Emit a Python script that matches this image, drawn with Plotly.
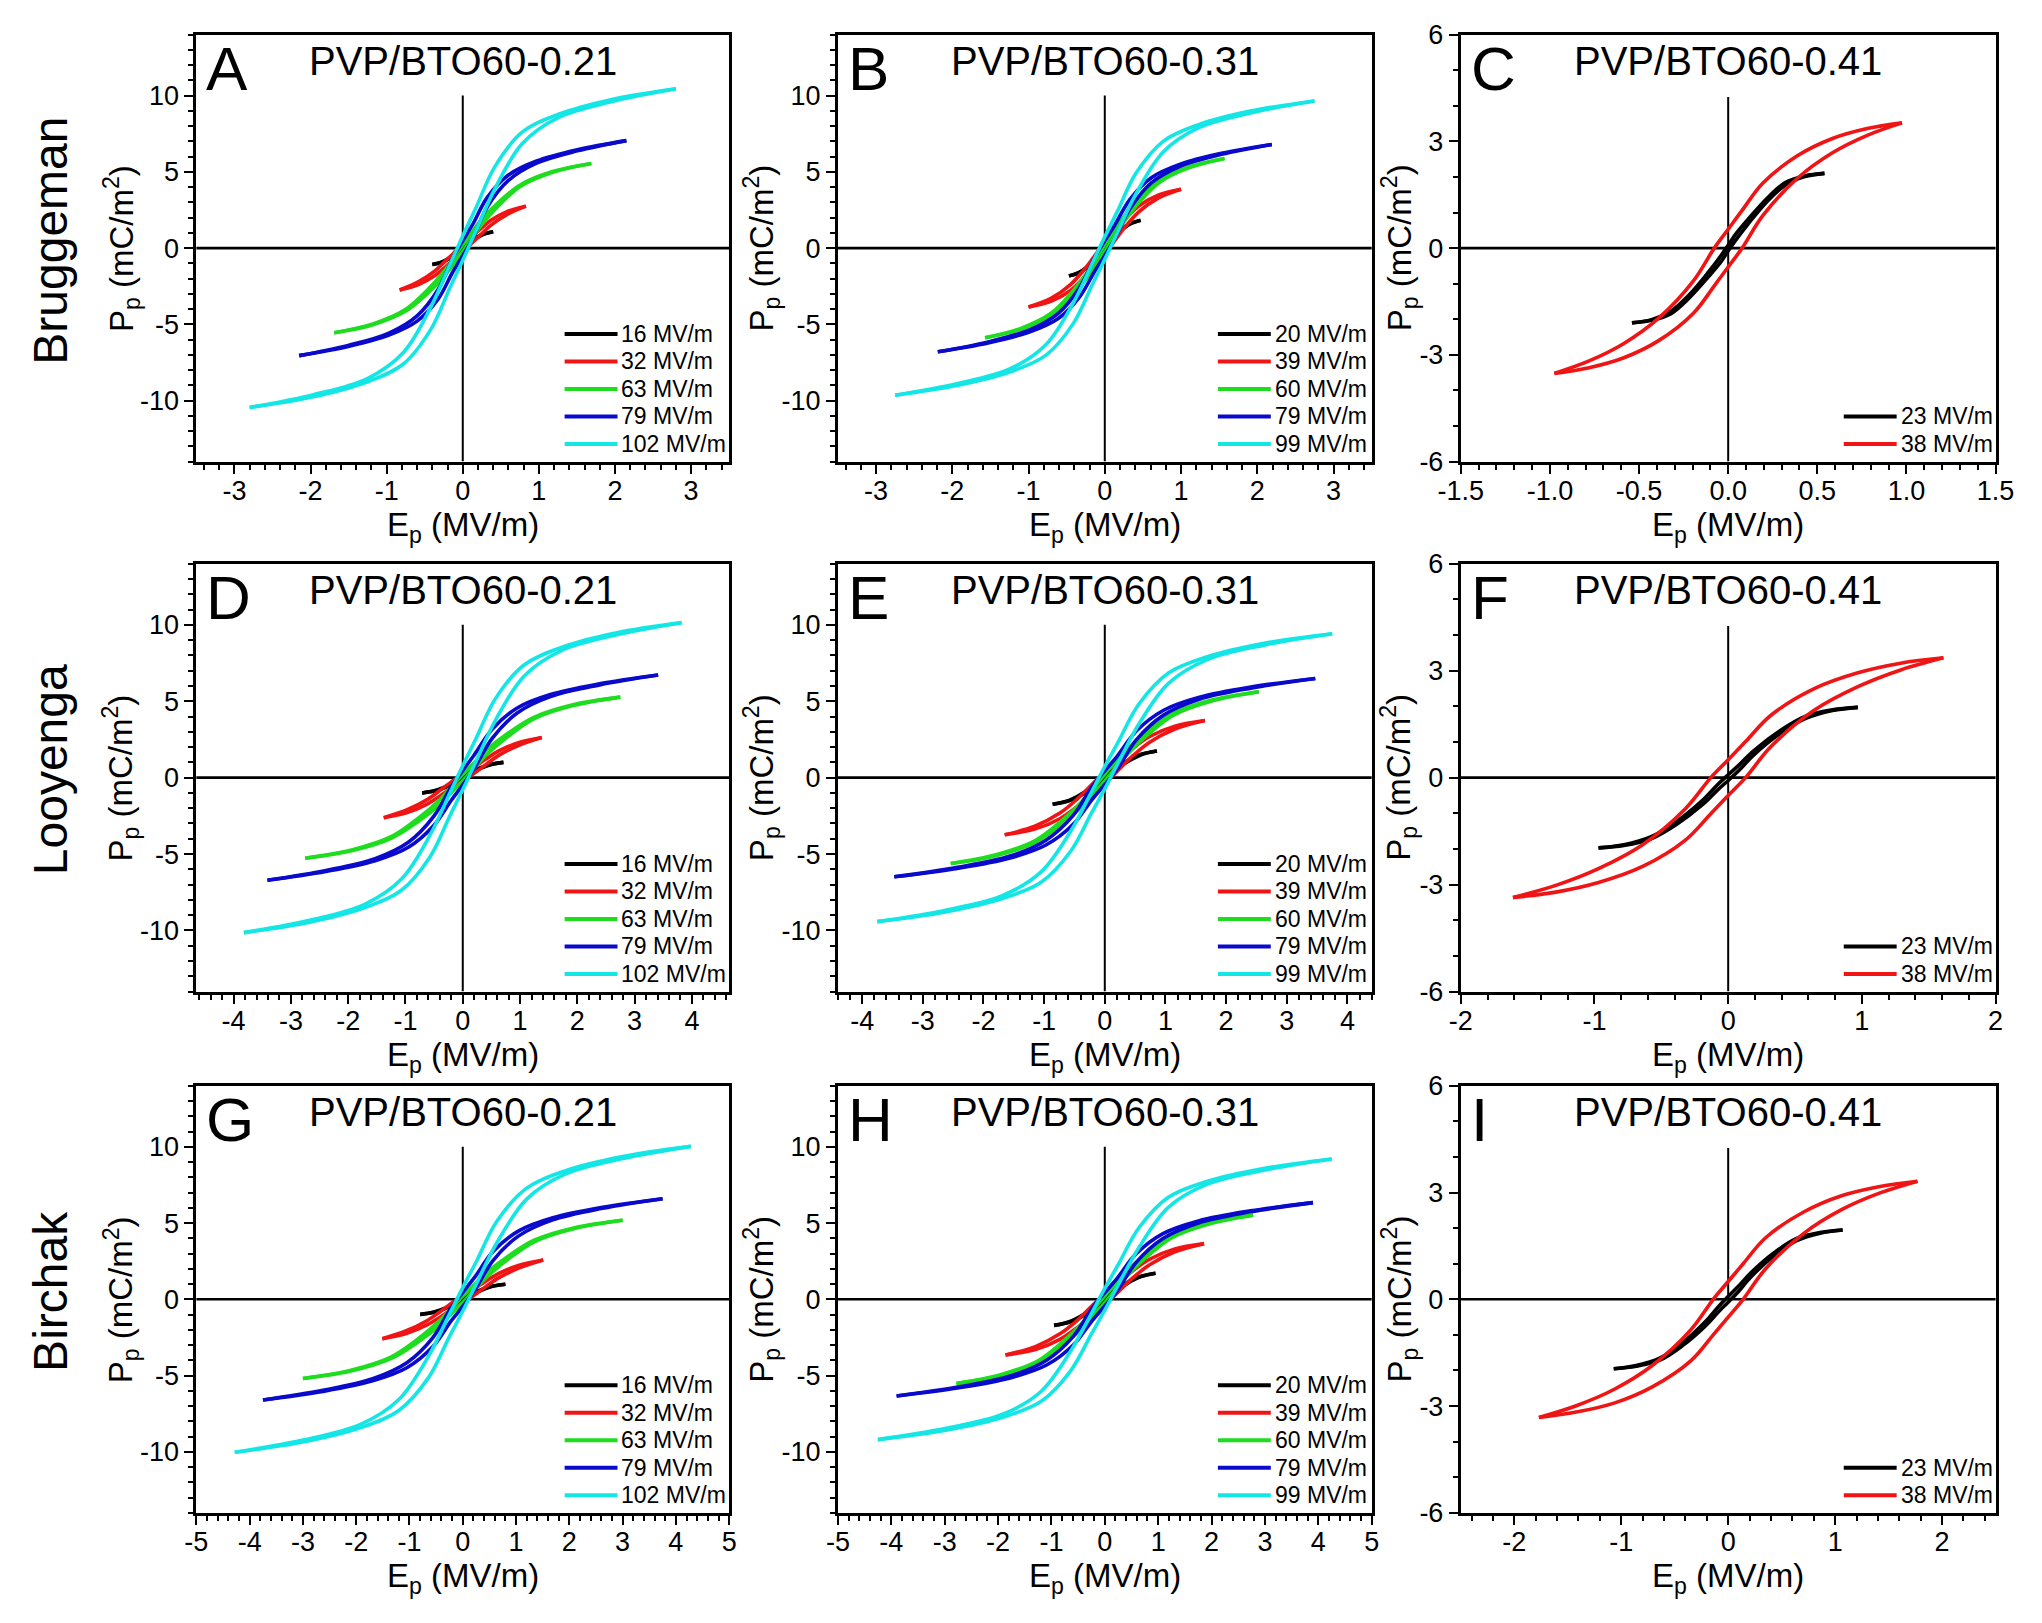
"""
P-E hysteresis loops of PVP/BTO60 particles from three effective medium models
"""
# Imports ---------------------------------------------------------------------
import plotly.graph_objects as go


# Labels ----------------------------------------------------------------------
models = ["Bruggeman", "Looyenga", "Birchak"]
samples = ["PVP/BTO60-0.21", "PVP/BTO60-0.31", "PVP/BTO60-0.41"]
letters = ["A", "B", "C", "D", "E", "F", "G", "H", "I"]
fields_021 = ["16 MV/m", "32 MV/m", "63 MV/m", "79 MV/m", "102 MV/m"]
fields_031 = ["20 MV/m", "39 MV/m", "60 MV/m", "79 MV/m", "99 MV/m"]
fields_041 = ["23 MV/m", "38 MV/m"]
colors = ["#000000", "#F01414", "#1EDC1E", "#0A0ACD", "#14E6E6"]

xt_3 = [-3, -2, -1, 0, 1, 2, 3]
xt_3_txt = ["-3", "-2", "-1", "0", "1", "2", "3"]
xt_15 = [-1.5, -1.0, -0.5, 0.0, 0.5, 1.0, 1.5]
xt_15_txt = ["-1.5", "-1.0", "-0.5", "0.0", "0.5", "1.0", "1.5"]
xt_4 = [-4, -3, -2, -1, 0, 1, 2, 3, 4]
xt_4_txt = ["-4", "-3", "-2", "-1", "0", "1", "2", "3", "4"]
xt_2 = [-2, -1, 0, 1, 2]
xt_2_txt = ["-2", "-1", "0", "1", "2"]
xt_5 = [-5, -4, -3, -2, -1, 0, 1, 2, 3, 4, 5]
xt_5_txt = ["-5", "-4", "-3", "-2", "-1", "0", "1", "2", "3", "4", "5"]
yt_10 = [-10, -5, 0, 5, 10]
yt_10_txt = ["-10", "-5", "0", "5", "10"]
yt_6 = [-6, -3, 0, 3, 6]
yt_6_txt = ["-6", "-3", "0", "3", "6"]


# Loops -----------------------------------------------------------------------
# E ascending; dn = branch on the rising field, up = branch on the falling field
A16_E = [-0.40, -0.28, -0.18, -0.112, -0.06, -0.024, 0, 0.024, 0.06, 0.112, 0.18, 0.28, 0.40]
A16_dn = [-1.07, -0.94, -0.71, -0.48, -0.29, -0.14, -0.05, 0.04, 0.20, 0.43, 0.66, 0.92, 1.07]
A16_up = [-1.07, -0.92, -0.66, -0.43, -0.20, -0.04, 0.05, 0.14, 0.29, 0.48, 0.71, 0.94, 1.07]
A32_E = [-0.83, -0.58, -0.37, -0.23, -0.12, -0.05, 0, 0.05, 0.12, 0.23, 0.37, 0.58, 0.83]
A32_dn = [-2.75, -2.39, -1.82, -1.24, -0.77, -0.47, -0.28, -0.06, 0.33, 0.85, 1.51, 2.20, 2.75]
A32_up = [-2.75, -2.20, -1.51, -0.85, -0.33, 0.06, 0.28, 0.47, 0.77, 1.24, 1.82, 2.39, 2.75]
A63_E = [-1.69, -1.18, -0.76, -0.47, -0.25, -0.10, 0, 0.10, 0.25, 0.47, 0.76, 1.18, 1.69]
A63_dn = [-5.55, -5.02, -4.16, -3.00, -1.89, -0.89, -0.22, 0.50, 1.55, 2.78, 4.05, 4.97, 5.55]
A63_up = [-5.55, -4.97, -4.05, -2.78, -1.55, -0.50, 0.22, 0.89, 1.89, 3.00, 4.16, 5.02, 5.55]
A79_E = [-2.15, -1.505, -0.97, -0.60, -0.32, -0.13, 0, 0.13, 0.32, 0.60, 0.97, 1.505, 2.15]
A79_dn = [-7.05, -6.45, -5.71, -4.79, -3.31, -1.55, -0.49, 0.63, 2.68, 4.44, 5.57, 6.38, 7.05]
A79_up = [-7.05, -6.38, -5.57, -4.44, -2.68, -0.63, 0.49, 1.55, 3.31, 4.79, 5.71, 6.45, 7.05]
A102_E = [-2.80, -1.96, -1.26, -0.78, -0.42, -0.17, 0, 0.17, 0.42, 0.78, 1.26, 1.96, 2.80]
A102_dn = [-10.45, -9.75, -8.78, -7.60, -5.33, -2.61, -0.80, 1.10, 3.87, 6.84, 8.57, 9.61, 10.45]
A102_up = [-10.45, -9.61, -8.57, -6.84, -3.87, -1.10, 0.80, 2.61, 5.33, 7.60, 8.78, 9.75, 10.45]

B20_E = [-0.47, -0.33, -0.21, -0.13, -0.07, -0.03, 0, 0.03, 0.07, 0.13, 0.21, 0.33, 0.47]
B20_dn = [-1.82, -1.60, -1.20, -0.82, -0.49, -0.24, -0.09, 0.07, 0.35, 0.73, 1.13, 1.57, 1.82]
B20_up = [-1.82, -1.57, -1.13, -0.73, -0.35, -0.07, 0.09, 0.24, 0.49, 0.82, 1.20, 1.60, 1.82]
B39_E = [-1.0, -0.70, -0.45, -0.28, -0.15, -0.06, 0, 0.06, 0.15, 0.28, 0.45, 0.70, 1.0]
B39_dn = [-3.86, -3.47, -2.78, -1.97, -1.24, -0.69, -0.35, 0.00, 0.62, 1.47, 2.39, 3.28, 3.86]
B39_up = [-3.86, -3.28, -2.39, -1.47, -0.62, 0.00, 0.35, 0.69, 1.24, 1.97, 2.78, 3.47, 3.86]
B60_E = [-1.57, -1.10, -0.71, -0.44, -0.24, -0.09, 0, 0.09, 0.24, 0.44, 0.71, 1.10, 1.57]
B60_dn = [-5.88, -5.32, -4.41, -3.18, -2.00, -0.94, -0.24, 0.53, 1.65, 2.94, 4.29, 5.26, 5.88]
B60_up = [-5.88, -5.26, -4.29, -2.94, -1.65, -0.53, 0.24, 0.94, 2.00, 3.18, 4.41, 5.32, 5.88]
B79_E = [-2.19, -1.53, -0.99, -0.61, -0.33, -0.13, 0, 0.13, 0.33, 0.61, 0.99, 1.53, 2.19]
B79_dn = [-6.80, -6.22, -5.51, -4.62, -3.20, -1.50, -0.48, 0.61, 2.58, 4.28, 5.37, 6.15, 6.80]
B79_up = [-6.80, -6.15, -5.37, -4.28, -2.58, -0.61, 0.48, 1.50, 3.20, 4.62, 5.51, 6.22, 6.80]
B99_E = [-2.75, -1.925, -1.24, -0.77, -0.41, -0.165, 0, 0.165, 0.41, 0.77, 1.24, 1.925, 2.75]
B99_dn = [-9.65, -9.00, -8.11, -7.02, -4.92, -2.41, -0.74, 1.01, 3.57, 6.32, 7.91, 8.88, 9.65]
B99_up = [-9.65, -8.88, -7.91, -6.32, -3.57, -1.01, 0.74, 2.41, 4.92, 7.02, 8.11, 9.00, 9.65]

C23_E = [-0.54, -0.43, -0.32, -0.22, -0.11, -0.04, 0, 0.04, 0.11, 0.22, 0.32, 0.43, 0.54]
C23_dn = [-2.10, -2.03, -1.84, -1.41, -0.80, -0.38, -0.08, 0.21, 0.67, 1.32, 1.77, 2.01, 2.10]
C23_up = [-2.10, -2.01, -1.77, -1.32, -0.67, -0.21, 0.08, 0.38, 0.80, 1.41, 1.84, 2.03, 2.10]
C38_E = [-0.975, -0.78, -0.585, -0.39, -0.195, -0.078, 0, 0.078, 0.195, 0.39, 0.585, 0.78, 0.975]
C38_dn = [-3.52, -3.36, -3.08, -2.60, -1.83, -1.06, -0.53, 0.00, 0.92, 1.97, 2.68, 3.17, 3.52]
C38_up = [-3.52, -3.17, -2.68, -1.97, -0.92, 0.00, 0.53, 1.06, 1.83, 2.60, 3.08, 3.36, 3.52]

D16_E = [-0.71, -0.50, -0.32, -0.20, -0.11, -0.04, 0, 0.04, 0.11, 0.20, 0.32, 0.50, 0.71]
D16_dn = [-1.0, -0.88, -0.66, -0.45, -0.27, -0.13, -0.05, 0.04, 0.19, 0.40, 0.62, 0.86, 1.0]
D16_up = [-1.0, -0.86, -0.62, -0.40, -0.19, -0.04, 0.05, 0.13, 0.27, 0.45, 0.66, 0.88, 1.0]
D32_E = [-1.38, -0.97, -0.62, -0.39, -0.21, -0.08, 0, 0.08, 0.21, 0.39, 0.62, 0.97, 1.38]
D32_dn = [-2.62, -2.28, -1.73, -1.18, -0.73, -0.45, -0.26, -0.05, 0.31, 0.81, 1.44, 2.10, 2.62]
D32_up = [-2.62, -2.10, -1.44, -0.81, -0.31, 0.05, 0.26, 0.45, 0.73, 1.18, 1.73, 2.28, 2.62]
D63_E = [-2.75, -1.925, -1.24, -0.77, -0.41, -0.165, 0, 0.165, 0.41, 0.77, 1.24, 1.925, 2.75]
D63_dn = [-5.27, -4.77, -3.95, -2.85, -1.79, -0.84, -0.21, 0.47, 1.48, 2.64, 3.85, 4.72, 5.27]
D63_up = [-5.27, -4.72, -3.85, -2.64, -1.48, -0.47, 0.21, 0.84, 1.79, 2.85, 3.95, 4.77, 5.27]
D79_E = [-3.41, -2.39, -1.53, -0.95, -0.51, -0.20, 0, 0.20, 0.51, 0.95, 1.53, 2.39, 3.41]
D79_dn = [-6.71, -6.14, -5.44, -4.56, -3.15, -1.48, -0.47, 0.60, 2.55, 4.23, 5.30, 6.07, 6.71]
D79_up = [-6.71, -6.07, -5.30, -4.23, -2.55, -0.60, 0.47, 1.48, 3.15, 4.56, 5.44, 6.14, 6.71]
D102_E = [-3.82, -2.67, -1.72, -1.07, -0.57, -0.23, 0, 0.23, 0.57, 1.07, 1.72, 2.67, 3.82]
D102_dn = [-10.14, -9.46, -8.52, -7.37, -5.17, -2.54, -0.78, 1.06, 3.75, 6.64, 8.31, 9.33, 10.14]
D102_up = [-10.14, -9.33, -8.31, -6.64, -3.75, -1.06, 0.78, 2.54, 5.17, 7.37, 8.52, 9.46, 10.14]

E20_E = [-0.86, -0.60, -0.39, -0.24, -0.13, -0.05, 0, 0.05, 0.13, 0.24, 0.39, 0.60, 0.86]
E20_dn = [-1.74, -1.53, -1.15, -0.78, -0.47, -0.23, -0.09, 0.07, 0.33, 0.70, 1.08, 1.50, 1.74]
E20_up = [-1.74, -1.50, -1.08, -0.70, -0.33, -0.07, 0.09, 0.23, 0.47, 0.78, 1.15, 1.53, 1.74]
E39_E = [-1.65, -1.155, -0.74, -0.46, -0.25, -0.10, 0, 0.10, 0.25, 0.46, 0.74, 1.155, 1.65]
E39_dn = [-3.74, -3.37, -2.69, -1.91, -1.20, -0.67, -0.34, 0.00, 0.60, 1.42, 2.32, 3.18, 3.74]
E39_up = [-3.74, -3.18, -2.32, -1.42, -0.60, 0.00, 0.34, 0.67, 1.20, 1.91, 2.69, 3.37, 3.74]
E60_E = [-2.54, -1.78, -1.14, -0.71, -0.38, -0.15, 0, 0.15, 0.38, 0.71, 1.14, 1.78, 2.54]
E60_dn = [-5.62, -5.09, -4.22, -3.03, -1.91, -0.90, -0.22, 0.51, 1.57, 2.81, 4.10, 5.03, 5.62]
E60_up = [-5.62, -5.03, -4.10, -2.81, -1.57, -0.51, 0.22, 0.90, 1.91, 3.03, 4.22, 5.09, 5.62]
E79_E = [-3.47, -2.43, -1.56, -0.97, -0.52, -0.21, 0, 0.21, 0.52, 0.97, 1.56, 2.43, 3.47]
E79_dn = [-6.49, -5.94, -5.26, -4.41, -3.05, -1.43, -0.45, 0.58, 2.47, 4.09, 5.13, 5.87, 6.49]
E79_up = [-6.49, -5.87, -5.13, -4.09, -2.47, -0.58, 0.45, 1.43, 3.05, 4.41, 5.26, 5.94, 6.49]
E99_E = [-3.75, -2.625, -1.69, -1.05, -0.56, -0.225, 0, 0.225, 0.56, 1.05, 1.69, 2.625, 3.75]
E99_dn = [-9.42, -8.79, -7.91, -6.85, -4.80, -2.36, -0.73, 0.99, 3.49, 6.17, 7.72, 8.67, 9.42]
E99_up = [-9.42, -8.67, -7.72, -6.17, -3.49, -0.99, 0.73, 2.36, 4.80, 6.85, 7.91, 8.79, 9.42]

F23_E = [-0.97, -0.78, -0.58, -0.39, -0.19, -0.08, 0, 0.08, 0.19, 0.39, 0.58, 0.78, 0.97]
F23_dn = [-1.97, -1.90, -1.72, -1.32, -0.75, -0.35, -0.08, 0.20, 0.63, 1.24, 1.66, 1.88, 1.97]
F23_up = [-1.97, -1.88, -1.66, -1.24, -0.63, -0.20, 0.08, 0.35, 0.75, 1.32, 1.72, 1.90, 1.97]
F38_E = [-1.61, -1.29, -0.97, -0.64, -0.32, -0.13, 0, 0.13, 0.32, 0.64, 0.97, 1.29, 1.61]
F38_dn = [-3.36, -3.21, -2.94, -2.49, -1.75, -1.01, -0.50, 0.00, 0.87, 1.88, 2.55, 3.02, 3.36]
F38_up = [-3.36, -3.02, -2.55, -1.88, -0.87, 0.00, 0.50, 1.01, 1.75, 2.49, 2.94, 3.21, 3.36]

G16_E = [-0.80, -0.56, -0.36, -0.22, -0.12, -0.05, 0, 0.05, 0.12, 0.22, 0.36, 0.56, 0.80]
G16_dn = [-0.99, -0.87, -0.65, -0.45, -0.27, -0.13, -0.05, 0.04, 0.19, 0.40, 0.61, 0.85, 0.99]
G16_up = [-0.99, -0.85, -0.61, -0.40, -0.19, -0.04, 0.05, 0.13, 0.27, 0.45, 0.65, 0.87, 0.99]
G32_E = [-1.51, -1.06, -0.68, -0.42, -0.23, -0.09, 0, 0.09, 0.23, 0.42, 0.68, 1.06, 1.51]
G32_dn = [-2.58, -2.24, -1.70, -1.16, -0.72, -0.44, -0.26, -0.05, 0.31, 0.80, 1.42, 2.06, 2.58]
G32_up = [-2.58, -2.06, -1.42, -0.80, -0.31, 0.05, 0.26, 0.44, 0.72, 1.16, 1.70, 2.24, 2.58]
G63_E = [-3.0, -2.1, -1.35, -0.84, -0.45, -0.18, 0, 0.18, 0.45, 0.84, 1.35, 2.1, 3.0]
G63_dn = [-5.19, -4.70, -3.89, -2.80, -1.76, -0.83, -0.21, 0.47, 1.45, 2.60, 3.79, 4.65, 5.19]
G63_up = [-5.19, -4.65, -3.79, -2.60, -1.45, -0.47, 0.21, 0.83, 1.76, 2.80, 3.89, 4.70, 5.19]
G79_E = [-3.75, -2.625, -1.69, -1.05, -0.56, -0.225, 0, 0.225, 0.56, 1.05, 1.69, 2.625, 3.75]
G79_dn = [-6.60, -6.04, -5.35, -4.49, -3.10, -1.45, -0.46, 0.59, 2.51, 4.16, 5.21, 5.97, 6.60]
G79_up = [-6.60, -5.97, -5.21, -4.16, -2.51, -0.59, 0.46, 1.45, 3.10, 4.49, 5.35, 6.04, 6.60]
G102_E = [-4.28, -3.0, -1.93, -1.20, -0.64, -0.26, 0, 0.26, 0.64, 1.20, 1.93, 3.0, 4.28]
G102_dn = [-10.03, -9.36, -8.43, -7.29, -5.12, -2.51, -0.77, 1.05, 3.71, 6.57, 8.22, 9.23, 10.03]
G102_up = [-10.03, -9.23, -8.22, -6.57, -3.71, -1.05, 0.77, 2.51, 5.12, 7.29, 8.43, 9.36, 10.03]

H20_E = [-0.95, -0.665, -0.43, -0.27, -0.14, -0.06, 0, 0.06, 0.14, 0.27, 0.43, 0.665, 0.95]
H20_dn = [-1.71, -1.50, -1.13, -0.77, -0.46, -0.22, -0.09, 0.07, 0.32, 0.68, 1.06, 1.47, 1.71]
H20_up = [-1.71, -1.47, -1.06, -0.68, -0.32, -0.07, 0.09, 0.22, 0.46, 0.77, 1.13, 1.50, 1.71]
H39_E = [-1.86, -1.30, -0.84, -0.52, -0.28, -0.11, 0, 0.11, 0.28, 0.52, 0.84, 1.30, 1.86]
H39_dn = [-3.65, -3.29, -2.63, -1.86, -1.17, -0.66, -0.33, 0.00, 0.58, 1.39, 2.26, 3.10, 3.65]
H39_up = [-3.65, -3.10, -2.26, -1.39, -0.58, 0.00, 0.33, 0.66, 1.17, 1.86, 2.63, 3.29, 3.65]
H60_E = [-2.78, -1.95, -1.25, -0.78, -0.42, -0.17, 0, 0.17, 0.42, 0.78, 1.25, 1.95, 2.78]
H60_dn = [-5.52, -5.00, -4.14, -2.98, -1.88, -0.88, -0.22, 0.50, 1.55, 2.76, 4.03, 4.94, 5.52]
H60_up = [-5.52, -4.94, -4.03, -2.76, -1.55, -0.50, 0.22, 0.88, 1.88, 2.98, 4.14, 5.00, 5.52]
H79_E = [-3.90, -2.73, -1.755, -1.09, -0.585, -0.235, 0, 0.235, 0.585, 1.09, 1.755, 2.73, 3.90]
H79_dn = [-6.34, -5.80, -5.14, -4.31, -2.98, -1.39, -0.44, 0.57, 2.41, 3.99, 5.01, 5.74, 6.34]
H79_up = [-6.34, -5.74, -5.01, -3.99, -2.41, -0.57, 0.44, 1.39, 2.98, 4.31, 5.14, 5.80, 6.34]
H99_E = [-4.25, -2.975, -1.91, -1.19, -0.64, -0.255, 0, 0.255, 0.64, 1.19, 1.91, 2.975, 4.25]
H99_dn = [-9.20, -8.58, -7.73, -6.69, -4.69, -2.30, -0.71, 0.97, 3.40, 6.03, 7.54, 8.46, 9.20]
H99_up = [-9.20, -8.46, -7.54, -6.03, -3.40, -0.97, 0.71, 2.30, 4.69, 6.69, 7.73, 8.58, 9.20]

I23_E = [-1.07, -0.86, -0.64, -0.43, -0.21, -0.09, 0, 0.09, 0.21, 0.43, 0.64, 0.86, 1.07]
I23_dn = [-1.95, -1.88, -1.71, -1.31, -0.74, -0.35, -0.08, 0.20, 0.62, 1.23, 1.65, 1.86, 1.95]
I23_up = [-1.95, -1.86, -1.65, -1.23, -0.62, -0.20, 0.08, 0.35, 0.74, 1.31, 1.71, 1.88, 1.95]
I38_E = [-1.77, -1.42, -1.06, -0.71, -0.35, -0.14, 0, 0.14, 0.35, 0.71, 1.06, 1.42, 1.77]
I38_dn = [-3.32, -3.17, -2.91, -2.46, -1.73, -1.00, -0.50, 0.00, 0.86, 1.86, 2.52, 2.99, 3.32]
I38_up = [-3.32, -2.99, -2.52, -1.86, -0.86, 0.00, 0.50, 1.00, 1.73, 2.46, 2.91, 3.17, 3.32]


# Panel table -----------------------------------------------------------------
panels = [
    dict(xr=3.5, xt=xt_3, xl=xt_3_txt, xm=0.2, yr=14, yt=yt_10, yl=yt_10_txt, vtop=10,
         names=fields_021,
         loops=[(A16_E, A16_dn, A16_up), (A32_E, A32_dn, A32_up), (A63_E, A63_dn, A63_up),
                (A79_E, A79_dn, A79_up), (A102_E, A102_dn, A102_up)]),
    dict(xr=3.5, xt=xt_3, xl=xt_3_txt, xm=0.2, yr=14, yt=yt_10, yl=yt_10_txt, vtop=10,
         names=fields_031,
         loops=[(B20_E, B20_dn, B20_up), (B39_E, B39_dn, B39_up), (B60_E, B60_dn, B60_up),
                (B79_E, B79_dn, B79_up), (B99_E, B99_dn, B99_up)]),
    dict(xr=1.5, xt=xt_15, xl=xt_15_txt, xm=0.1, yr=6, yt=yt_6, yl=yt_6_txt, vtop=4.25,
         names=fields_041,
         loops=[(C23_E, C23_dn, C23_up), (C38_E, C38_dn, C38_up)]),
    dict(xr=4.65, xt=xt_4, xl=xt_4_txt, xm=0.2, yr=14, yt=yt_10, yl=yt_10_txt, vtop=10,
         names=fields_021,
         loops=[(D16_E, D16_dn, D16_up), (D32_E, D32_dn, D32_up), (D63_E, D63_dn, D63_up),
                (D79_E, D79_dn, D79_up), (D102_E, D102_dn, D102_up)]),
    dict(xr=4.4, xt=xt_4, xl=xt_4_txt, xm=0.2, yr=14, yt=yt_10, yl=yt_10_txt, vtop=10,
         names=fields_031,
         loops=[(E20_E, E20_dn, E20_up), (E39_E, E39_dn, E39_up), (E60_E, E60_dn, E60_up),
                (E79_E, E79_dn, E79_up), (E99_E, E99_dn, E99_up)]),
    dict(xr=2.0, xt=xt_2, xl=xt_2_txt, xm=0.2, yr=6, yt=yt_6, yl=yt_6_txt, vtop=4.25,
         names=fields_041,
         loops=[(F23_E, F23_dn, F23_up), (F38_E, F38_dn, F38_up)]),
    dict(xr=5.0, xt=xt_5, xl=xt_5_txt, xm=0.2, yr=14, yt=yt_10, yl=yt_10_txt, vtop=10,
         names=fields_021,
         loops=[(G16_E, G16_dn, G16_up), (G32_E, G32_dn, G32_up), (G63_E, G63_dn, G63_up),
                (G79_E, G79_dn, G79_up), (G102_E, G102_dn, G102_up)]),
    dict(xr=5.0, xt=xt_5, xl=xt_5_txt, xm=0.2, yr=14, yt=yt_10, yl=yt_10_txt, vtop=10,
         names=fields_031,
         loops=[(H20_E, H20_dn, H20_up), (H39_E, H39_dn, H39_up), (H60_E, H60_dn, H60_up),
                (H79_E, H79_dn, H79_up), (H99_E, H99_dn, H99_up)]),
    dict(xr=2.5, xt=xt_2, xl=xt_2_txt, xm=0.2, yr=6, yt=yt_6, yl=yt_6_txt, vtop=4.25,
         names=fields_041,
         loops=[(I23_E, I23_dn, I23_up), (I38_E, I38_dn, I38_up)]),
]


# Geometry (pixels of a 2042 x 1623 page) -------------------------------------
W, H = 2042, 1623
col_px = [(177, 721), (832, 1377), (1468, 2014)]
row_px = [(20, 455), (559, 995), (1091, 1526)]
legend_off = [168, 157, 155]   # frame right -> start of legend line
ytitle_off = [77, 78, 63]      # frame left -> centre of y title
FONT = "Liberation Sans, Arial, sans-serif"


def px_x(x):
    return x / W


def px_y(y):
    return 1 - y / H


def minor_ticks(limit, step):
    n = int(limit / step + 1e-9)
    return [round(k * step, 4) for k in range(-n, n + 1)]


# Figure ----------------------------------------------------------------------
fig = go.Figure()
shapes = []
annotations = []

for i, p in enumerate(panels):
    r, c = divmod(i, 3)
    n = i + 1
    xref = "x" if n == 1 else f"x{n}"
    yref = "y" if n == 1 else f"y{n}"
    x0, x1 = col_px[c]
    y0, y1 = row_px[r]

    for (E, P_dn, P_up), color in zip(p["loops"], colors):
        for P in (P_dn, P_up):
            fig.add_trace(go.Scatter(
                x=E, y=P, mode="lines", showlegend=False, hoverinfo="skip",
                line=dict(color=color, width=3.6, shape="spline", smoothing=1.0),
                xaxis=xref, yaxis=yref,
            ))

    axis_common = dict(
        showgrid=False, zeroline=False, showline=True, linecolor="black",
        linewidth=3, mirror=True, ticks="outside", ticklen=9, tickwidth=2,
        tickcolor="black", tickmode="array",
        tickfont=dict(family=FONT, size=27, color="black"),
    )
    fig.layout[f"xaxis{'' if n == 1 else n}"] = dict(
        axis_common, domain=[px_x(x0), px_x(x1)], range=[-p["xr"], p["xr"]],
        tickvals=p["xt"], ticktext=p["xl"], anchor=yref, ticklabelstandoff=-6,
        minor=dict(tickmode="array", tickvals=minor_ticks(p["xr"], p["xm"]),
                   ticks="outside", ticklen=5, tickwidth=1.5, tickcolor="black"),
    )
    fig.layout[f"yaxis{'' if n == 1 else n}"] = dict(
        axis_common, domain=[px_y(y1), px_y(y0)], range=[-p["yr"], p["yr"]],
        tickvals=p["yt"], ticktext=p["yl"], anchor=xref,
        minor=dict(tickmode="array", tickvals=minor_ticks(p["yr"], 1),
                   ticks="outside", ticklen=5, tickwidth=1.5, tickcolor="black"),
    )

    # zero axes
    shapes.append(dict(type="line", xref=f"{xref} domain", yref=yref, x0=0, x1=1,
                       y0=0, y1=0, line=dict(color="black", width=2.6), layer="below"))
    vbottom = 0 if r == 2 else -p["yr"]
    shapes.append(dict(type="line", xref=xref, yref=yref, x0=0, x1=0,
                       y0=vbottom, y1=p["vtop"], line=dict(color="black", width=2),
                       layer="below"))

    # letter and sample name
    annotations.append(dict(text=letters[i], x=px_x(x0 + 8), y=px_y(y0 + 34),
                            xref="paper", yref="paper", xanchor="left", yanchor="middle",
                            showarrow=False, font=dict(family=FONT, size=62, color="black")))
    annotations.append(dict(text=samples[c], x=px_x((x0 + x1) / 2), y=px_y(y0 + 27),
                            xref="paper", yref="paper", xanchor="center", yanchor="middle",
                            showarrow=False, font=dict(family=FONT, size=40, color="black")))

    # axis titles
    annotations.append(dict(text="E<sub>p</sub> (MV/m)", x=px_x((x0 + x1) / 2),
                            y=px_y(y1 + 43), xref="paper", yref="paper",
                            xanchor="center", yanchor="top", showarrow=False,
                            font=dict(family=FONT, size=33, color="black")))
    annotations.append(dict(text="P<sub>p</sub> (mC/m<sup>2</sup>)",
                            x=px_x(x0 - ytitle_off[c]), y=px_y((y0 + y1) / 2),
                            xref="paper", yref="paper", textangle=-90,
                            xanchor="center", yanchor="middle", showarrow=False,
                            font=dict(family=FONT, size=33, color="black")))

    # legend
    k_total = len(p["names"])
    for k, (name, color) in enumerate(zip(p["names"], colors)):
        yy = y1 - 18 - 28 * (k_total - 1 - k)
        lx = x1 - legend_off[c]
        shapes.append(dict(type="line", xref="paper", yref="paper",
                           x0=px_x(lx), x1=px_x(lx + 54), y0=px_y(yy), y1=px_y(yy),
                           line=dict(color=color, width=4)))
        annotations.append(dict(text=name, x=px_x(lx + 56), y=px_y(yy),
                                xref="paper", yref="paper", xanchor="left",
                                yanchor="middle", showarrow=False,
                                font=dict(family=FONT, size=23, color="black")))

# model names down the left side
for r, model in enumerate(models):
    y0, y1 = row_px[r]
    annotations.append(dict(text=model, x=px_x(28), y=px_y((y0 + y1) / 2 - 8),
                            xref="paper", yref="paper", textangle=-90,
                            xanchor="center", yanchor="middle", showarrow=False,
                            font=dict(family=FONT, size=48, color="black")))

fig.update_layout(
    width=W, height=H, margin=dict(l=0, r=0, t=0, b=0),
    paper_bgcolor="white", plot_bgcolor="white",
    shapes=shapes, annotations=annotations, showlegend=False,
)

fig.write_html("out.html", config={"displayModeBar": False},
               post_script="document.body.style.margin = '0px';")
